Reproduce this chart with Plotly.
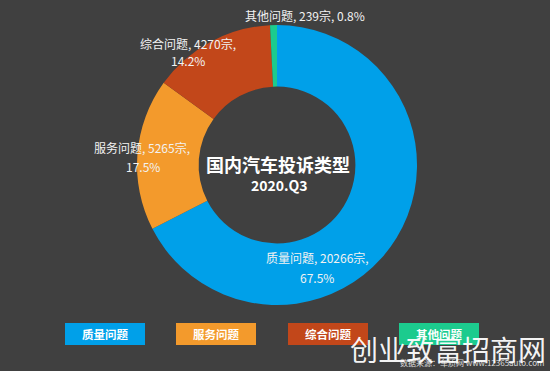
import plotly.graph_objects as go

categories = ["质量问题", "服务问题", "综合问题", "其他问题"]
counts = [20266, 5265, 4270, 239]
percents = ["67.5%", "17.5%", "14.2%", "0.8%"]
colors = ["#00A0E9", "#F39A2C", "#C2471A", "#1CCB8E"]

W, H = 550, 371
BG = "#404040"
FONT = "Noto Sans CJK SC"

cx, cy, R = 277, 165, 140

fig = go.Figure(go.Pie(
    labels=categories,
    values=counts,
    marker=dict(colors=colors, line=dict(width=0)),
    hole=0.56,
    sort=False,
    direction="clockwise",
    rotation=0,
    textinfo="none",
    hoverinfo="label+value+percent",
    showlegend=False,
    domain=dict(x=[(cx - R) / W, (cx + R) / W],
                y=[(H - cy - R) / H, (H - cy + R) / H]),
))

def px(x):
    return x / W

def py(y):
    return 1 - y / H

annotations = []
# slice labels (pixel anchors for text centers)
label_pos = [
    [(317, 257), (317, 277)],
    [(142, 147), (143, 166)],
    [(188, 43), (188, 61)],
    [(305, 15)],
]
for i, cat in enumerate(categories):
    pos = label_pos[i]
    if len(pos) == 2:
        lines = [f"{cat}, {counts[i]}宗,", percents[i]]
    else:
        lines = [f"{cat}, {counts[i]}宗, {percents[i]}"]
    for (x, y), t in zip(pos, lines):
        annotations.append(dict(x=px(x), y=py(y), xref="paper", yref="paper",
                                text=t, showarrow=False, xanchor="center", yanchor="middle",
                                font=dict(family=FONT, size=12, color="#F2F2F2")))

# center title
annotations.append(dict(x=px(278), y=py(164), xref="paper", yref="paper",
                        text="<b>国内汽车投诉类型</b>", showarrow=False,
                        yanchor="middle",
                        font=dict(family=FONT, size=18, color="white")))
annotations.append(dict(x=px(280), y=py(185), xref="paper", yref="paper",
                        text="<b>2020.Q3</b>", showarrow=False,
                        yanchor="middle",
                        font=dict(family=FONT, size=14, color="white")))

# legend boxes
shapes = []
box_x = [65, 176, 288, 399]
bw, bh, by = 80, 22, 323
for i, cat in enumerate(categories):
    x0 = box_x[i]
    shapes.append(dict(type="rect", xref="paper", yref="paper", layer="below",
                       x0=px(x0), x1=px(x0 + bw), y0=py(by + bh), y1=py(by),
                       fillcolor=colors[i], line=dict(width=0)))
    annotations.append(dict(x=px(x0 + bw / 2), y=py(by + bh / 2), xref="paper", yref="paper",
                            text=f"<b>{cat}</b>", showarrow=False,
                            xanchor="center", yanchor="middle",
                            font=dict(family=FONT, size=11.5, color="white")))

# source note and watermark
annotations.append(dict(x=px(546), y=py(362), xref="paper", yref="paper",
                        text="数据来源：车质网 www.12365auto.com", showarrow=False,
                        xanchor="right", yanchor="middle",
                        font=dict(family=FONT, size=8, color="#DDDDDD")))
annotations.append(dict(x=px(548), y=py(349), xref="paper", yref="paper",
                        text="创业致富招商网", showarrow=False,
                        xanchor="right", yanchor="middle",
                        font=dict(family=FONT, size=28, color="rgba(255,255,255,0.95)")))

fig.update_layout(
    width=W, height=H,
    margin=dict(l=0, r=0, t=0, b=0),
    paper_bgcolor=BG, plot_bgcolor=BG,
    annotations=annotations,
    shapes=shapes,
)

fig.write_html(
    "out.html",
    config={"displayModeBar": False},
    post_script="document.body.style.margin='0';document.body.style.overflow='hidden';",
)
